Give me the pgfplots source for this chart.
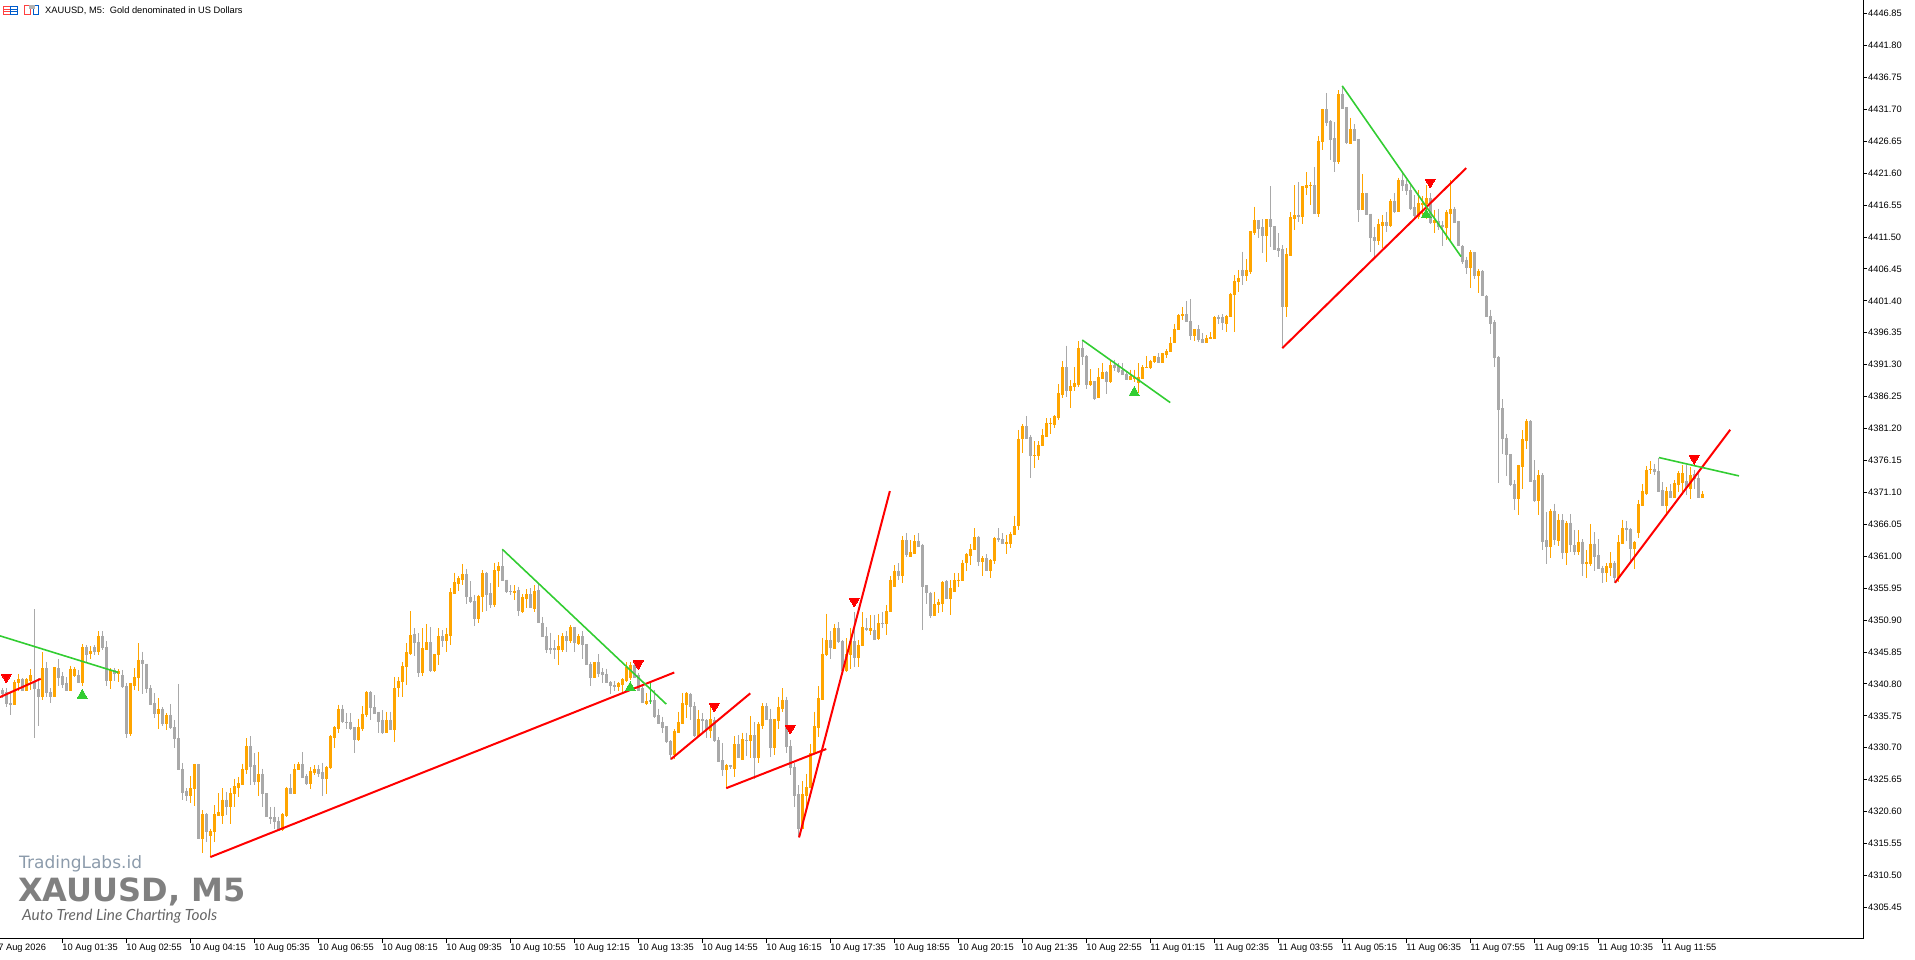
\documentclass[border=0pt]{standalone}
\usepackage{graphicx}
\usepackage{fontspec}
\setmainfont{Liberation Sans}
\newfontfamily\wmfont{DejaVu Sans}
\newfontfamily\hand{Lato}
\usepackage{pgfplots}
\usepackage{pgfplotstable}
\pgfplotsset{compat=1.18}
\definecolor{upc}{HTML}{FFA500}
\definecolor{dnc}{HTML}{A9A9A9}
\definecolor{gr}{HTML}{32CD32}
\definecolor{rd}{HTML}{FF0000}
\pgfplotstableread{
i o h l c
0 4339.8 4340.1 4338.5 4339.3
1 4339.5 4340.1 4337.2 4337.7
2 4337.8 4339.3 4335.9 4337.6
3 4337.6 4341.4 4337.5 4341.1
4 4341.0 4342.4 4339.6 4341.6
5 4341.6 4341.7 4339.6 4339.8
6 4339.8 4341.7 4339.6 4341.5
7 4341.3 4343.1 4339.8 4342.2
8 4341.3 4352.6 4332.3 4340.1
9 4340.0 4341.7 4334.2 4338.8
10 4338.8 4345.8 4338.3 4343.3
11 4343.3 4344.3 4338.8 4339.5
12 4339.5 4340.1 4337.8 4338.8
13 4338.8 4343.5 4338.7 4343.4
14 4343.3 4344.7 4340.4 4341.8
15 4342.0 4342.6 4340.1 4340.8
16 4340.9 4341.9 4339.7 4339.8
17 4339.8 4343.7 4339.6 4343.2
18 4342.2 4343.5 4341.9 4343.2
19 4342.2 4343.0 4340.9 4341.1
20 4341.1 4347.1 4340.5 4346.6
21 4346.6 4346.9 4344.3 4345.5
22 4345.6 4346.8 4344.8 4346.0
23 4346.6 4346.9 4345.4 4346.0
24 4346.0 4349.1 4345.4 4348.4
25 4348.4 4349.1 4346.2 4346.6
26 4346.7 4347.6 4340.4 4341.4
27 4341.4 4343.3 4340.0 4343.0
28 4343.0 4343.3 4341.3 4342.4
29 4342.4 4343.1 4341.1 4342.9
30 4342.2 4343.0 4340.2 4340.4
31 4340.5 4340.9 4332.2 4332.9
32 4332.9 4341.0 4332.5 4340.9
33 4340.5 4343.3 4339.8 4341.9
34 4341.8 4347.2 4339.7 4344.6
35 4344.6 4345.9 4339.2 4344.0
36 4344.0 4344.0 4339.3 4340.1
37 4340.1 4340.6 4337.5 4337.6
38 4337.8 4339.3 4335.4 4336.2
39 4336.2 4338.5 4333.7 4336.9
40 4336.9 4337.1 4334.1 4334.5
41 4334.5 4336.2 4333.5 4335.9
42 4335.9 4337.6 4333.7 4333.9
43 4333.9 4335.1 4330.6 4332.2
44 4332.2 4340.8 4327.1 4327.2
45 4327.3 4328.3 4322.4 4323.7
46 4323.9 4324.3 4322.2 4323.2
47 4323.2 4326.2 4321.9 4324.3
48 4324.3 4328.2 4321.5 4328.1
49 4328.1 4328.2 4316.2 4316.4
50 4316.4 4320.8 4314.1 4320.2
51 4320.2 4320.3 4315.8 4317.4
52 4316.8 4317.9 4313.4 4317.5
53 4317.4 4321.6 4315.8 4320.2
54 4320.0 4323.5 4320.0 4320.5
55 4320.0 4324.3 4318.7 4322.5
56 4322.5 4323.7 4320.0 4321.5
57 4321.5 4324.3 4318.7 4323.5
58 4323.4 4325.8 4321.4 4324.6
59 4324.5 4326.1 4322.9 4325.1
60 4324.9 4328.2 4324.8 4327.4
61 4327.2 4332.2 4326.5 4331.0
62 4331.0 4332.5 4324.8 4327.8
63 4328.0 4329.8 4324.8 4325.4
64 4325.4 4330.1 4323.1 4326.5
65 4326.5 4327.4 4321.4 4323.4
66 4323.5 4323.5 4319.7 4319.8
67 4319.8 4321.3 4318.7 4319.5
68 4319.7 4321.4 4317.9 4319.0
69 4319.1 4319.8 4317.6 4317.7
70 4317.8 4320.4 4317.6 4320.2
71 4320.0 4324.5 4319.7 4324.4
72 4324.4 4326.6 4323.4 4323.5
73 4323.5 4328.2 4323.4 4327.3
74 4327.2 4328.4 4327.1 4328.1
75 4328.1 4330.0 4325.9 4326.0
76 4326.2 4326.5 4324.8 4325.1
77 4325.1 4327.6 4324.2 4327.0
78 4326.8 4328.0 4326.4 4327.3
79 4327.3 4328.0 4326.1 4326.6
80 4326.8 4328.3 4323.1 4325.8
81 4325.8 4327.8 4323.4 4327.7
82 4327.6 4332.7 4327.4 4332.5
83 4332.4 4334.1 4330.7 4333.9
84 4333.7 4337.5 4333.1 4336.9
85 4336.9 4337.5 4334.6 4334.8
86 4334.8 4336.2 4333.6 4334.7
87 4334.7 4336.2 4333.5 4333.8
88 4333.9 4333.9 4329.8 4332.1
89 4332.0 4335.3 4331.8 4333.9
90 4333.8 4337.3 4333.4 4336.1
91 4336.0 4339.6 4335.6 4339.5
92 4339.5 4339.7 4335.1 4337.1
93 4337.1 4339.0 4336.1 4336.2
94 4336.4 4336.4 4333.0 4334.9
95 4335.1 4336.6 4332.9 4333.1
96 4333.1 4336.4 4333.0 4335.1
97 4335.1 4336.4 4333.5 4333.6
98 4333.6 4341.9 4331.6 4340.2
99 4340.2 4341.9 4338.7 4341.3
100 4341.2 4344.3 4338.7 4343.6
101 4343.5 4347.2 4340.7 4345.8
102 4345.6 4352.3 4345.4 4348.5
103 4348.7 4349.6 4345.2 4347.3
104 4347.5 4348.8 4341.9 4342.6
105 4342.6 4349.6 4342.0 4346.4
106 4346.3 4350.3 4346.3 4347.4
107 4347.4 4349.8 4342.7 4343.0
108 4343.0 4345.6 4342.6 4345.5
109 4345.4 4349.6 4343.8 4348.4
110 4348.4 4349.3 4346.7 4347.7
111 4347.7 4349.7 4345.9 4348.7
112 4348.5 4355.9 4346.9 4355.3
113 4355.1 4358.4 4355.0 4356.9
114 4356.7 4357.8 4355.5 4357.5
115 4357.3 4359.8 4356.4 4358.2
116 4358.2 4359.0 4353.5 4354.6
117 4354.6 4357.0 4353.6 4353.8
118 4353.9 4354.9 4349.9 4351.1
119 4351.1 4354.9 4350.4 4354.7
120 4354.6 4358.8 4352.1 4358.3
121 4358.3 4358.5 4352.4 4355.0
122 4355.1 4356.7 4352.8 4353.3
123 4353.3 4360.0 4353.0 4358.8
124 4358.8 4360.1 4356.2 4359.4
125 4359.4 4362.1 4357.0 4357.2
126 4357.3 4357.3 4355.2 4355.4
127 4355.5 4356.4 4354.9 4355.4
128 4355.3 4356.4 4354.1 4355.5
129 4355.6 4356.2 4351.6 4352.5
130 4352.3 4355.0 4352.0 4354.5
131 4354.3 4355.8 4352.8 4355.0
132 4355.0 4355.9 4352.8 4352.9
133 4352.8 4356.4 4352.2 4355.5
134 4355.6 4356.7 4350.4 4350.5
135 4350.5 4351.4 4348.2 4348.3
136 4348.4 4349.8 4345.7 4346.3
137 4346.4 4348.9 4345.6 4346.3
138 4346.4 4347.7 4344.8 4346.3
139 4346.2 4348.5 4343.8 4346.8
140 4346.3 4348.8 4345.8 4348.4
141 4348.4 4349.1 4345.9 4347.7
142 4347.7 4350.1 4347.2 4349.8
143 4349.8 4349.8 4345.9 4347.3
144 4347.2 4348.7 4346.9 4348.3
145 4348.3 4349.1 4344.8 4347.1
146 4347.1 4347.1 4343.8 4343.9
147 4343.9 4344.3 4340.4 4341.8
148 4341.9 4344.3 4341.8 4344.3
149 4344.3 4345.5 4341.9 4342.5
150 4342.6 4343.3 4340.9 4342.3
151 4342.4 4343.2 4340.9 4341.0
152 4341.1 4341.2 4339.2 4340.5
153 4340.6 4341.3 4339.7 4340.4
154 4340.4 4341.1 4339.6 4340.9
155 4340.8 4341.7 4339.3 4341.6
156 4341.3 4344.3 4341.1 4343.5
157 4341.9 4344.3 4341.4 4343.8
158 4343.8 4344.0 4341.7 4341.9
159 4342.2 4342.5 4339.7 4339.8
160 4340.1 4340.4 4337.7 4337.8
161 4337.7 4339.3 4337.5 4338.1
162 4338.2 4338.3 4338.0 4338.1
163 4338.2 4339.8 4335.4 4335.6
164 4335.8 4336.9 4334.5 4334.6
165 4334.8 4335.6 4333.0 4333.9
166 4334.1 4334.1 4331.5 4331.7
167 4331.8 4331.9 4328.8 4329.6
168 4329.6 4333.6 4328.9 4333.3
169 4333.1 4336.4 4333.1 4334.7
170 4334.6 4339.3 4334.5 4337.7
171 4337.6 4339.5 4335.4 4339.3
172 4339.2 4339.4 4335.1 4337.3
173 4337.3 4338.0 4332.4 4332.6
174 4332.6 4336.7 4332.4 4335.2
175 4335.2 4336.2 4333.0 4335.0
176 4335.1 4335.2 4332.2 4333.8
177 4333.4 4337.7 4332.2 4335.2
178 4335.1 4335.5 4331.6 4331.8
179 4331.9 4332.4 4328.5 4328.6
180 4328.7 4331.4 4326.2 4327.3
181 4327.3 4328.2 4324.3 4327.9
182 4327.9 4328.0 4327.4 4327.7
183 4327.4 4332.5 4326.1 4331.3
184 4331.3 4332.7 4329.0 4329.2
185 4328.9 4333.1 4328.8 4332.1
186 4331.9 4333.1 4329.4 4331.8
187 4331.8 4335.7 4329.0 4332.7
188 4332.7 4334.8 4325.8 4329.2
189 4329.2 4334.8 4328.3 4334.5
190 4334.3 4337.8 4333.7 4337.3
191 4337.3 4337.8 4335.1 4335.2
192 4335.2 4336.9 4329.3 4330.7
193 4330.7 4335.3 4329.5 4335.3
194 4335.1 4338.8 4333.6 4337.2
195 4337.0 4340.1 4336.4 4338.2
196 4338.2 4338.8 4329.9 4330.9
197 4331.0 4332.0 4326.4 4327.6
198 4327.7 4328.3 4321.3 4323.2
199 4323.3 4324.8 4316.6 4317.9
200 4317.9 4325.4 4317.8 4323.4
201 4323.2 4326.6 4320.8 4324.5
202 4324.4 4331.3 4324.3 4329.9
203 4329.8 4336.4 4329.8 4334.1
204 4333.9 4340.4 4332.4 4338.5
205 4338.4 4348.1 4338.3 4345.6
206 4345.5 4351.9 4345.2 4347.7
207 4347.7 4349.1 4344.8 4346.5
208 4346.4 4350.3 4346.4 4349.6
209 4349.7 4350.6 4347.3 4347.5
210 4347.6 4347.7 4342.9 4343.0
211 4343.0 4348.0 4342.7 4345.6
212 4345.5 4349.6 4343.2 4347.6
213 4347.6 4352.1 4343.4 4345.0
214 4345.0 4347.7 4343.5 4347.0
215 4346.9 4352.1 4346.9 4349.8
216 4349.7 4351.2 4349.1 4349.4
217 4349.3 4351.7 4348.5 4349.6
218 4349.3 4351.7 4347.7 4347.8
219 4348.0 4351.9 4347.8 4350.4
220 4350.4 4352.2 4349.6 4350.3
221 4350.3 4353.3 4348.5 4352.3
222 4352.2 4357.8 4352.1 4357.3
223 4356.3 4359.6 4356.2 4358.7
224 4358.7 4359.9 4357.2 4358.0
225 4358.0 4364.2 4356.8 4363.6
226 4363.5 4364.7 4360.9 4361.3
227 4361.0 4363.5 4360.8 4361.7
228 4361.5 4364.3 4361.4 4363.4
229 4363.4 4364.6 4362.5 4362.6
230 4362.8 4363.0 4349.4 4356.3
231 4356.4 4356.4 4353.5 4355.2
232 4355.2 4355.4 4351.2 4351.7
233 4351.7 4355.4 4351.5 4353.4
234 4353.3 4354.3 4352.0 4353.8
235 4353.6 4357.0 4352.1 4356.9
236 4357.1 4357.2 4354.3 4354.4
237 4354.4 4357.2 4351.7 4355.9
238 4355.4 4358.3 4355.3 4357.2
239 4357.1 4358.3 4356.2 4357.3
240 4357.2 4360.4 4357.1 4360.0
241 4360.0 4361.5 4358.7 4361.3
242 4361.2 4362.9 4359.6 4362.2
243 4362.1 4365.4 4362.0 4364.0
244 4364.1 4364.2 4359.4 4360.2
245 4360.2 4361.0 4357.8 4360.7
246 4360.7 4361.3 4358.8 4358.8
247 4358.8 4360.5 4357.6 4360.4
248 4360.3 4364.1 4359.8 4363.8
249 4363.8 4365.4 4363.3 4363.6
250 4363.7 4364.6 4362.9 4363.0
251 4363.1 4364.4 4361.4 4363.3
252 4363.1 4364.9 4362.3 4364.5
253 4364.5 4367.4 4364.5 4365.8
254 4365.8 4381.0 4365.1 4379.6
255 4379.6 4381.9 4377.4 4381.6
256 4381.6 4383.2 4379.5 4379.6
257 4379.9 4380.2 4373.4 4376.9
258 4376.9 4379.2 4375.0 4377.0
259 4376.9 4379.2 4376.2 4378.6
260 4378.5 4381.2 4378.4 4380.2
261 4380.0 4382.8 4379.9 4382.0
262 4382.0 4382.8 4380.4 4382.1
263 4381.9 4383.3 4381.3 4383.1
264 4383.0 4388.2 4382.6 4386.8
265 4386.6 4391.8 4386.1 4390.9
266 4390.9 4394.3 4386.2 4387.3
267 4387.3 4388.9 4384.5 4388.0
268 4387.9 4390.9 4387.1 4388.4
269 4388.2 4395.0 4387.7 4394.0
270 4394.0 4395.2 4391.2 4392.6
271 4392.7 4392.8 4387.4 4388.2
272 4388.2 4390.6 4387.9 4388.7
273 4388.7 4388.7 4385.7 4386.0
274 4386.1 4390.7 4386.0 4389.3
275 4389.2 4391.5 4389.1 4390.1
276 4390.1 4390.3 4386.7 4388.6
277 4388.6 4392.0 4388.4 4391.2
278 4391.2 4392.1 4390.3 4390.9
279 4391.1 4391.6 4390.0 4390.3
280 4390.5 4391.5 4389.8 4389.8
281 4389.9 4390.2 4388.9 4388.9
282 4388.9 4390.5 4388.8 4389.5
283 4389.2 4390.5 4388.6 4389.4
284 4388.5 4391.5 4386.8 4389.3
285 4389.1 4391.2 4389.0 4390.9
286 4390.8 4392.7 4390.7 4391.0
287 4390.8 4392.1 4390.6 4391.9
288 4391.8 4392.7 4391.5 4392.6
289 4392.5 4393.1 4391.5 4391.6
290 4391.6 4393.2 4391.5 4393.1
291 4393.0 4393.7 4392.4 4393.5
292 4393.4 4395.6 4393.3 4394.8
293 4394.8 4397.8 4394.8 4397.0
294 4396.9 4399.3 4396.8 4399.2
295 4399.1 4400.4 4398.3 4399.3
296 4399.3 4401.4 4398.0 4398.1
297 4398.2 4401.7 4395.2 4395.9
298 4396.0 4396.9 4395.1 4396.9
299 4396.9 4397.6 4394.9 4395.3
300 4395.3 4396.3 4394.8 4394.8
301 4394.8 4396.0 4394.8 4395.5
302 4395.4 4396.4 4395.3 4395.6
303 4395.5 4399.0 4395.4 4398.8
304 4398.8 4399.2 4397.8 4398.6
305 4398.8 4399.3 4396.8 4398.0
306 4397.8 4399.2 4396.4 4399.0
307 4398.9 4402.7 4398.8 4402.5
308 4402.4 4405.5 4396.4 4404.5
309 4404.4 4406.3 4402.8 4405.0
310 4406.3 4409.2 4403.9 4405.5
311 4405.5 4408.0 4404.6 4406.3
312 4406.1 4412.4 4405.7 4412.4
313 4412.3 4416.3 4411.8 4414.2
314 4414.2 4414.2 4411.4 4412.9
315 4413.0 4414.3 4408.9 4411.7
316 4411.7 4414.3 4407.6 4414.3
317 4414.3 4419.5 4409.9 4413.1
318 4413.2 4413.2 4409.5 4409.6
319 4409.7 4412.1 4408.4 4409.4
320 4409.6 4410.2 4393.9 4400.6
321 4400.6 4409.7 4398.9 4408.8
322 4408.6 4415.4 4408.5 4414.6
323 4414.5 4419.7 4412.6 4415.0
324 4415.0 4420.2 4413.8 4414.7
325 4414.8 4419.6 4413.6 4419.5
326 4419.3 4421.7 4418.1 4419.7
327 4419.6 4420.2 4416.5 4419.7
328 4419.7 4422.6 4415.2 4415.3
329 4415.3 4427.5 4414.6 4426.7
330 4426.6 4431.8 4425.3 4431.7
331 4431.7 4434.3 4429.0 4429.7
332 4429.8 4430.0 4423.7 4427.0
333 4427.1 4429.7 4421.8 4423.5
334 4423.5 4434.7 4423.0 4434.1
335 4434.1 4435.4 4431.7 4431.8
336 4432.1 4432.1 4426.2 4426.4
337 4426.3 4430.4 4426.2 4428.6
338 4428.6 4429.3 4426.8 4426.8
339 4427.0 4427.0 4413.8 4415.9
340 4415.9 4421.5 4415.9 4418.4
341 4418.4 4418.4 4414.9 4415.1
342 4415.2 4415.2 4409.2 4411.5
343 4411.5 4413.1 4408.1 4410.9
344 4410.9 4414.4 4410.2 4413.5
345 4413.4 4415.0 4409.7 4413.8
346 4413.8 4415.4 4412.3 4413.4
347 4413.4 4417.5 4413.1 4417.2
348 4417.2 4418.4 4415.3 4415.6
349 4415.5 4420.9 4415.4 4420.5
350 4420.5 4421.7 4418.7 4419.7
351 4419.9 4420.5 4418.1 4418.8
352 4418.9 4419.9 4415.8 4416.0
353 4416.2 4418.1 4414.4 4414.9
354 4414.7 4418.9 4414.3 4416.8
355 4416.7 4418.0 4414.7 4416.9
356 4416.8 4419.7 4414.4 4417.6
357 4417.6 4418.4 4413.6 4413.8
358 4413.8 4415.8 4412.2 4414.2
359 4414.1 4416.0 4412.6 4413.2
360 4413.4 4414.1 4410.0 4413.1
361 4413.0 4415.7 4411.0 4415.5
362 4415.3 4420.5 4410.7 4416.0
363 4416.0 4416.3 4413.8 4413.8
364 4414.0 4414.1 4410.0 4410.1
365 4410.1 4410.2 4407.3 4407.7
366 4407.9 4408.4 4405.6 4406.7
367 4406.7 4409.4 4403.5 4409.1
368 4409.1 4409.2 4404.8 4405.5
369 4405.5 4406.5 4402.7 4406.1
370 4406.1 4406.3 4402.1 4402.2
371 4402.2 4402.3 4399.0 4399.0
372 4399.0 4400.0 4396.2 4397.9
373 4398.0 4398.4 4391.0 4392.4
374 4392.5 4392.6 4372.6 4384.3
375 4384.4 4385.8 4377.2 4379.6
376 4379.7 4380.3 4373.7 4377.1
377 4377.1 4377.2 4372.1 4372.3
378 4372.4 4373.0 4368.3 4370.1
379 4370.1 4375.5 4367.5 4375.4
380 4375.2 4380.9 4371.6 4379.5
381 4379.3 4382.7 4378.0 4382.4
382 4382.4 4382.5 4372.7 4372.9
383 4373.0 4376.2 4369.6 4369.9
384 4369.9 4374.6 4367.5 4373.8
385 4373.8 4374.1 4362.0 4363.4
386 4363.5 4368.0 4359.8 4362.6
387 4362.6 4368.5 4360.7 4368.2
388 4368.2 4369.3 4362.8 4363.6
389 4363.5 4367.6 4362.6 4366.8
390 4366.8 4367.6 4360.6 4361.6
391 4361.6 4366.5 4359.6 4366.3
392 4366.3 4367.7 4361.6 4362.8
393 4362.8 4365.1 4361.2 4361.8
394 4361.8 4365.1 4361.2 4363.3
395 4363.3 4363.7 4357.9 4359.9
396 4359.9 4362.0 4357.6 4360.1
397 4359.9 4366.1 4359.5 4363.0
398 4363.0 4364.8 4358.6 4361.0
399 4361.2 4363.7 4358.9 4359.0
400 4359.1 4359.5 4356.8 4358.5
401 4358.5 4359.9 4356.9 4359.4
402 4359.2 4361.6 4357.8 4360.0
403 4360.0 4360.2 4356.8 4357.7
404 4357.7 4364.3 4356.9 4363.2
405 4363.1 4366.8 4363.0 4365.5
406 4365.5 4366.6 4363.4 4365.2
407 4365.3 4365.4 4360.3 4362.3
408 4362.3 4363.4 4359.0 4363.3
409 4364.7 4369.9 4363.9 4369.2
410 4369.0 4372.4 4368.9 4371.3
411 4371.0 4375.2 4370.7 4374.7
412 4374.7 4376.0 4374.0 4374.8
413 4374.8 4375.6 4373.8 4374.4
414 4374.4 4376.6 4371.1 4371.3
415 4371.4 4372.7 4368.9 4369.0
416 4369.0 4372.0 4367.4 4371.3
417 4371.3 4372.4 4370.3 4370.3
418 4370.3 4373.0 4370.2 4372.5
419 4372.4 4374.4 4371.1 4374.1
420 4372.7 4375.5 4370.7 4374.1
421 4372.9 4375.5 4370.7 4371.9
422 4371.7 4375.1 4370.0 4373.8
423 4374.0 4374.7 4371.7 4373.3
424 4373.4 4374.4 4370.3 4370.3
425 4370.3 4371.3 4370.3 4370.9
}\bars
\begin{document}
\begin{tikzpicture}[x=1pt,y=1pt]
\useasboundingbox (0,0) rectangle (1915,959);
\begin{axis}[
  at={(0pt,20pt)}, anchor=south west, scale only axis,
  width=1863pt, height=939pt,
  xmin=-0.575, xmax=465.2, ymin=4300.44, ymax=4448.99,
  axis x line=bottom, axis y line=right,
  axis line style={-, line width=1pt, black},
  tick align=outside, major tick length=4pt,
  tick style={black, line width=0.8pt},
  ytick={4305.45,4310.50,4315.55,4320.60,4325.65,4330.70,4335.75,4340.80,4345.85,4350.90,4355.95,4361.00,4366.05,4371.10,4376.15,4381.20,4386.25,4391.30,4396.35,4401.40,4406.45,4411.50,4416.55,4421.60,4426.65,4431.70,4436.75,4441.80,4446.85},
  yticklabel style={/pgf/number format/fixed, /pgf/number format/fixed zerofill, /pgf/number format/precision=2, /pgf/number format/1000 sep={}, /pgf/number format/assume math mode=true, font=\fontsize{9.3}{11}\selectfont, inner xsep=1pt},
  xtick={15,31,47,63,79,95,111,127,143,159,175,191,207,223,239,255,271,287,303,319,335,351,367,383,399,415},
  xticklabels={10 Aug 01:35,10 Aug 02:55,10 Aug 04:15,10 Aug 05:35,10 Aug 06:55,10 Aug 08:15,10 Aug 09:35,10 Aug 10:55,10 Aug 12:15,10 Aug 13:35,10 Aug 14:55,10 Aug 16:15,10 Aug 17:35,10 Aug 18:55,10 Aug 20:15,10 Aug 21:35,10 Aug 22:55,11 Aug 01:15,11 Aug 02:35,11 Aug 03:55,11 Aug 05:15,11 Aug 06:35,11 Aug 07:55,11 Aug 09:15,11 Aug 10:35,11 Aug 11:55},
  xticklabel style={anchor=north west, font=\fontsize{9.3}{11}\selectfont, inner xsep=0pt, inner ysep=1pt},
]
% wicks
\addplot[draw=none, forget plot, error bars/.cd, y dir=minus, y explicit, error mark=none, error bar style={line width=1pt, draw=dnc}]
  table[x expr={\thisrow{c}<\thisrow{o} ? \thisrow{i} : nan}, y=h, y error minus expr=\thisrow{h}-\thisrow{l}] {\bars};
\addplot[draw=none, forget plot, error bars/.cd, y dir=minus, y explicit, error mark=none, error bar style={line width=1pt, draw=upc}]
  table[x expr={\thisrow{c}>=\thisrow{o} ? \thisrow{i} : nan}, y=h, y error minus expr=\thisrow{h}-\thisrow{l}] {\bars};
% bodies
\addplot[draw=none, forget plot, error bars/.cd, y dir=minus, y explicit, error mark=none, error bar style={line width=3pt, draw=dnc}]
  table[x expr={\thisrow{c}<\thisrow{o} ? \thisrow{i} : nan}, y=o, y error minus expr=\thisrow{o}-\thisrow{c}+0.1] {\bars};
\addplot[draw=none, forget plot, error bars/.cd, y dir=minus, y explicit, error mark=none, error bar style={line width=3pt, draw=upc}]
  table[x expr={\thisrow{c}>=\thisrow{o} ? \thisrow{i} : nan}, y=c, y error minus expr=\thisrow{c}-\thisrow{o}+0.1] {\bars};
% thin green stroke
\addplot[gr, line width=0.6pt, forget plot] coordinates {(162,4340.9)(162,4337.6)};
% trend lines
\addplot[rd, line width=2pt] coordinates {(-0.6,4338.7)(9.6,4341.6)};
\addplot[gr, line width=1.6pt] coordinates {(-0.6,4348.4)(29,4342.6)};
\addplot[rd, line width=2pt] coordinates {(52,4313.4)(168,4342.6)};
\addplot[gr, line width=1.6pt] coordinates {(125,4362.1)(166,4337.6)};
\addplot[rd, line width=2pt] coordinates {(167.2,4328.9)(187,4339.3)};
\addplot[rd, line width=2pt] coordinates {(181,4324.3)(206,4330.5)};
\addplot[rd, line width=2pt] coordinates {(199.2,4316.5)(221.9,4371.3)};
\addplot[gr, line width=1.6pt] coordinates {(270,4395.2)(292,4385.3)};
\addplot[rd, line width=2pt] coordinates {(320,4393.9)(366,4422.4)};
\addplot[gr, line width=1.6pt] coordinates {(335,4435.4)(364.7,4408.4)};
\addplot[rd, line width=2pt] coordinates {(403.2,4356.8)(432,4381.0)};
\addplot[gr, line width=1.6pt] coordinates {(414.2,4376.6)(434.2,4373.7)};
% signals
\addplot[only marks, color=rd, mark=triangle*, mark size=5.8pt, mark options={rotate=180, fill=rd, draw=rd, line width=0pt}] coordinates {(1,4341.9)(159,4344.0)(178,4337.3)(197,4333.8)(213,4353.9)(357,4420.2)(423,4376.5)};
\addplot[only marks, color=gr, mark=triangle*, mark size=5.8pt, mark options={fill=gr, draw=gr, line width=0pt}] coordinates {(20,4339.0)(157,4340.2)(283,4386.9)(356,4415.0)};
\addplot[only marks, color=black!8, mark=triangle*, mark size=5pt, mark options={rotate=180, fill=violet!10, draw=violet!10, line width=0pt}] coordinates {(422.7,4449.2)};
\end{axis}
% cut-off first date label
\node[anchor=north west, inner xsep=0pt, inner ysep=1pt, font=\fontsize{9.3}{11}\selectfont] at (-7,16) {07 Aug 2026};
% header
\begin{scope}[line width=0.9pt]
  \draw[red!75!white] (3.5,944.5) rectangle (10,952.5);
  \draw[blue!55!cyan!80!black] (10,944.5) rectangle (17,952.5);
  \draw[red!75!white] (3.5,947.2) -- (10,947.2) (3.5,949.8) -- (10,949.8);
  \draw[blue!55!cyan!80!black] (10,947.2) -- (17,947.2) (10,949.8) -- (17,949.8);
  \draw[red!75!white] (24.5,944.5) rectangle (30,953.5);
  \draw[blue!55!cyan!80!black] (33,944.5) rectangle (38.5,953.5);
  \fill[gray!60] (28.5,950) rectangle (34.5,954);
\end{scope}
\node[anchor=west, inner sep=0pt, font=\fontsize{9.3}{11}\selectfont] at (45,948.5) {XAUUSD, M5:\ \ Gold denominated in US Dollars};
% watermark
\definecolor{wmblue}{HTML}{8C9BAB}
\node[anchor=west, inner sep=0pt, text=wmblue, font=\wmfont\fontsize{17}{20}\selectfont] at (19,95) {TradingLabs.id};
\node[anchor=west, inner sep=0pt, text=black!50, font=\wmfont\bfseries\fontsize{32}{36}\selectfont] at (18,67) {XAUUSD, M5};
\node[anchor=west, inner sep=0pt, text=black!60] at (22,43) {\resizebox{195pt}{!}{\hand\itshape Auto Trend Line Charting Tools}};
\end{tikzpicture}
\end{document}
